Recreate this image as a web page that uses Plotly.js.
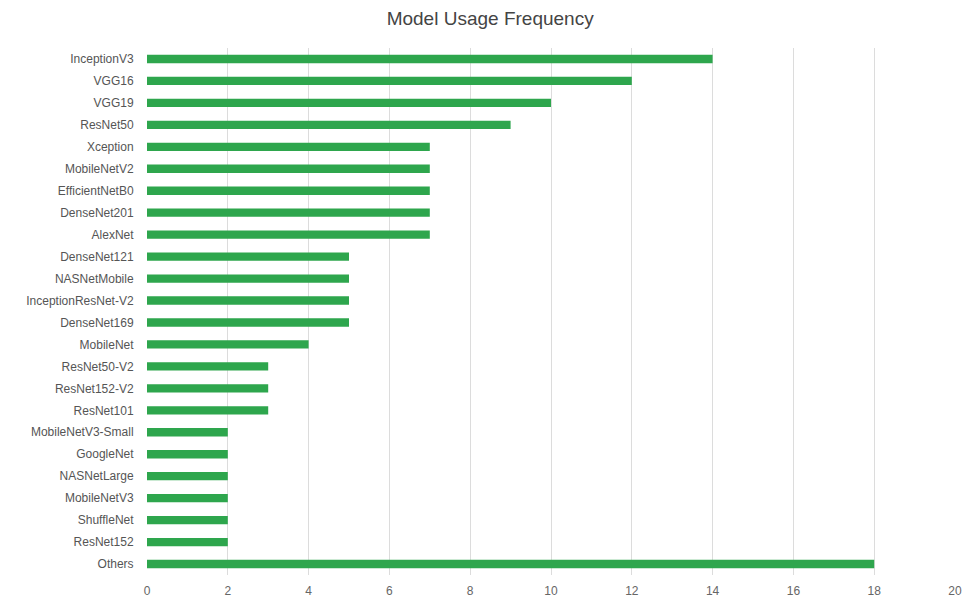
<!DOCTYPE html>
<html>
<head>
<meta charset="utf-8">
<script src="https://cdn.plot.ly/plotly-3.0.1.min.js"></script>
<style>
  html, body { margin: 0; padding: 0; background: #fff; }
  #chart { width: 963px; height: 602px; }
</style>
</head>
<body>
<div id="chart"></div>
<script>
// Model names, top to bottom
const models = [
  "InceptionV3", "VGG16", "VGG19", "ResNet50", "Xception", "MobileNetV2",
  "EfficientNetB0", "DenseNet201", "AlexNet", "DenseNet121", "NASNetMobile",
  "InceptionResNet-V2", "DenseNet169", "MobileNet", "ResNet50-V2",
  "ResNet152-V2", "ResNet101", "MobileNetV3-Small", "GoogleNet",
  "NASNetLarge", "MobileNetV3", "ShuffleNet", "ResNet152", "Others"
];

// Number of times each model is used
const usageCounts = [
  14, 12, 10, 9, 7, 7,
  7, 7, 7, 5, 5,
  5, 5, 4, 3,
  3, 3, 2, 2,
  2, 2, 2, 2, 18
];

// X-axis ticks
const xTicks = [0, 2, 4, 6, 8, 10, 12, 14, 16, 18, 20];

const trace = {
  type: "bar",
  orientation: "h",
  x: usageCounts,
  y: models,
  marker: { color: "#2ea64d" },
  hoverinfo: "x+y"
};

const layout = {
  width: 963,
  height: 602,
  margin: { l: 147, r: 8, t: 48, b: 27 },
  paper_bgcolor: "#ffffff",
  plot_bgcolor: "#ffffff",
  bargap: 0.62,
  showlegend: false,
  title: {
    text: "Model Usage Frequency",
    x: 0.509,
    xref: "container",
    xanchor: "center",
    y: 0.97,
    yref: "container",
    yanchor: "middle",
    font: { family: "Liberation Sans, Arial, sans-serif", size: 19, color: "#444" }
  },
  xaxis: {
    range: [0, 20],
    tickvals: xTicks,
    ticktext: xTicks.map(String),
    showgrid: true,
    gridcolor: "#dcdcdc",
    gridwidth: 1,
    zeroline: false,
    showline: false,
    ticks: "outside",
    ticklen: 5,
    tickcolor: "rgba(0,0,0,0)",
    tickfont: { family: "Liberation Sans, Arial, sans-serif", size: 12, color: "#666" }
  },
  yaxis: {
    type: "category",
    autorange: "reversed",
    showgrid: false,
    zeroline: false,
    showline: false,
    ticks: "outside",
    ticklen: 10,
    tickcolor: "rgba(0,0,0,0)",
    tickfont: { family: "Liberation Sans, Arial, sans-serif", size: 12, color: "#555" }
  }
};

Plotly.newPlot("chart", [trace], layout, { displayModeBar: false, responsive: false });
</script>
</body>
</html>
